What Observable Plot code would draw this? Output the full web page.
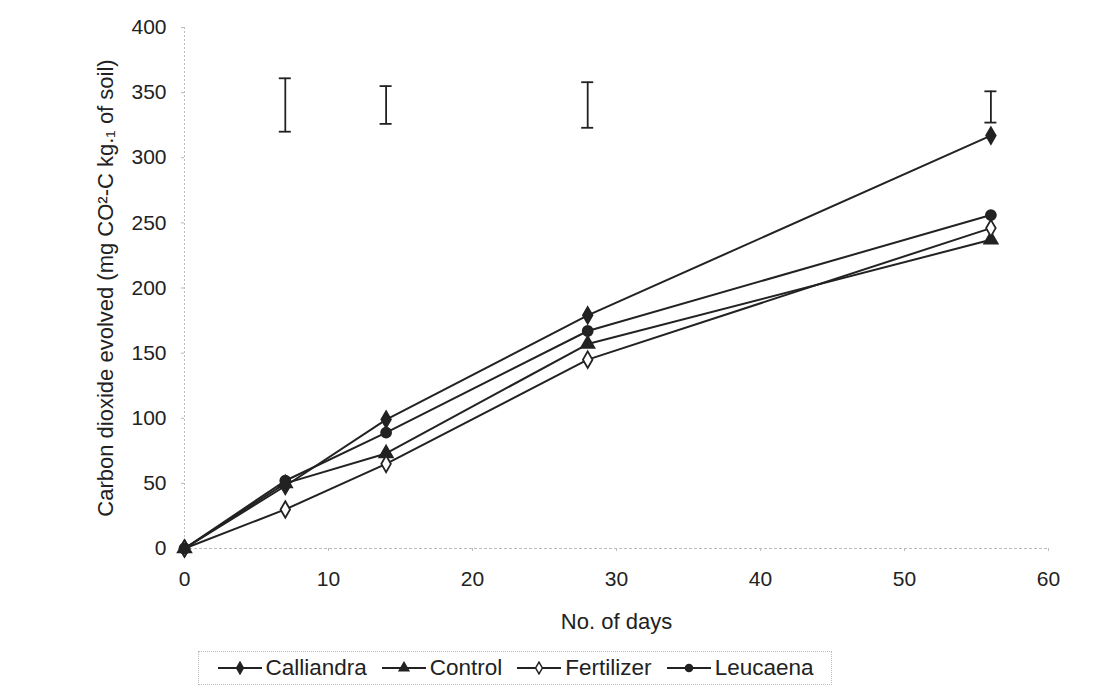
<!DOCTYPE html>
<html><head><meta charset="utf-8">
<script src="https://cdn.jsdelivr.net/npm/d3@7"></script>
<script src="https://cdn.jsdelivr.net/npm/@observablehq/plot@0.6"></script>
<style>
body{margin:0;background:#fff;font-family:"Liberation Sans",Arial,sans-serif;color:#222;}
#legend{position:absolute;left:198px;top:651px;width:634px;height:34px;border:1px dotted #bbb;box-sizing:border-box;display:flex;align-items:center;justify-content:center;gap:14px;font-size:22.5px;}
#legend span{display:flex;align-items:center;gap:3px;}
</style></head>
<body>
<div id="chart"></div>
<div id="legend"></div>
<script>
const days = [0, 7, 14, 28, 56];
const calliandra = [0, 48, 99, 179, 317];
const control = [0, 50, 73, 157, 237];
const fertilizer = [0, 30, 65, 145, 246];
const leucaena = [0, 52, 89, 167, 256];
const seriesNames = ["Calliandra", "Control", "Fertilizer", "Leucaena"];
const errDays = [7, 14, 28, 56];
const errLow = [320, 326, 323, 327];
const errHigh = [361, 355, 358, 351];
const xTicks = [0, 10, 20, 30, 40, 50, 60];
const yTicks = [0, 50, 100, 150, 200, 250, 300, 350, 400];

const values = [calliandra, control, fertilizer, leucaena];
const symbols = {Calliandra: "diamond", Control: "triangle", Fertilizer: "diamond", Leucaena: "circle"};
const fills = {Calliandra: "#222", Control: "#222", Fertilizer: "white", Leucaena: "#222"};
const rows = [];
seriesNames.forEach((s, i) => days.forEach((d, j) => rows.push({series: s, day: d, value: values[i][j]})));
const errs = errDays.map((d, i) => ({day: d, lo: errLow[i], hi: errHigh[i]}));
const ink = "#222";

const chart = Plot.plot({
  width: 1105, height: 640,
  marginLeft: 184, marginRight: 57, marginTop: 27, marginBottom: 92,
  style: {fontFamily: "'Liberation Sans', Arial, sans-serif", fontSize: "21px", color: ink, background: "white"},
  x: {domain: [0, 60]},
  y: {domain: [0, 400]},
  marks: [
    Plot.ruleX([0], {stroke: "#bbb", strokeDasharray: "2,2"}),
    Plot.ruleY([0], {stroke: "#bbb", strokeDasharray: "3,2"}),
    Plot.axisX({ticks: xTicks, tickSize: 3, tickPadding: 20, stroke: "#bbb", fontSize: 21, fill: ink, label: null}),
    Plot.axisY({ticks: yTicks, tickSize: 3, tickPadding: 15, stroke: "#bbb", fontSize: 21, fill: ink, label: null}),
    Plot.text(["No. of days"], {frameAnchor: "bottom", dy: 80, fontSize: 22, fill: ink}),
    Plot.line(rows, {x: "day", y: "value", z: "series", stroke: ink, strokeWidth: 2}),
    Plot.dot(rows, {x: "day", y: "value", symbol: d => symbols[d.series], fill: d => fills[d.series], stroke: ink, strokeWidth: 1.8, r: 5}),
    Plot.ruleX(errs, {x: "day", y1: "lo", y2: "hi", stroke: ink, strokeWidth: 1.8}),
    Plot.ruleY(errs, {x1: "day", x2: "day", y: "lo", insetLeft: -6, insetRight: -6, stroke: ink, strokeWidth: 1.8}),
    Plot.ruleY(errs, {x1: "day", x2: "day", y: "hi", insetLeft: -6, insetRight: -6, stroke: ink, strokeWidth: 1.8}),
    Plot.text(["Carbon dioxide evolved (mg CO²-C kg.₁ of soil)"], {frameAnchor: "left", textAnchor: "middle", dx: -79, rotate: -90, fontSize: 22, fill: ink})
  ]
});
document.getElementById("chart").appendChild(chart);

// legend
const leg = d3.select("#legend");
seriesNames.forEach(s => {
  const sp = leg.append("span");
  const svg = sp.append("svg").attr("width", 46).attr("height", 14);
  svg.append("line").attr("x1", 1).attr("x2", 45).attr("y1", 7).attr("y2", 7).attr("stroke", ink).attr("stroke-width", 2);
  svg.append("path").attr("transform", "translate(23,7)")
    .attr("d", d3.symbol(s === "Control" ? d3.symbolTriangle : s === "Leucaena" ? d3.symbolCircle : d3.symbolDiamond, 40)())
    .attr("fill", fills[s]).attr("stroke", ink).attr("stroke-width", 1.5);
  sp.append("span").text(s);
});
</script>
</body></html>
